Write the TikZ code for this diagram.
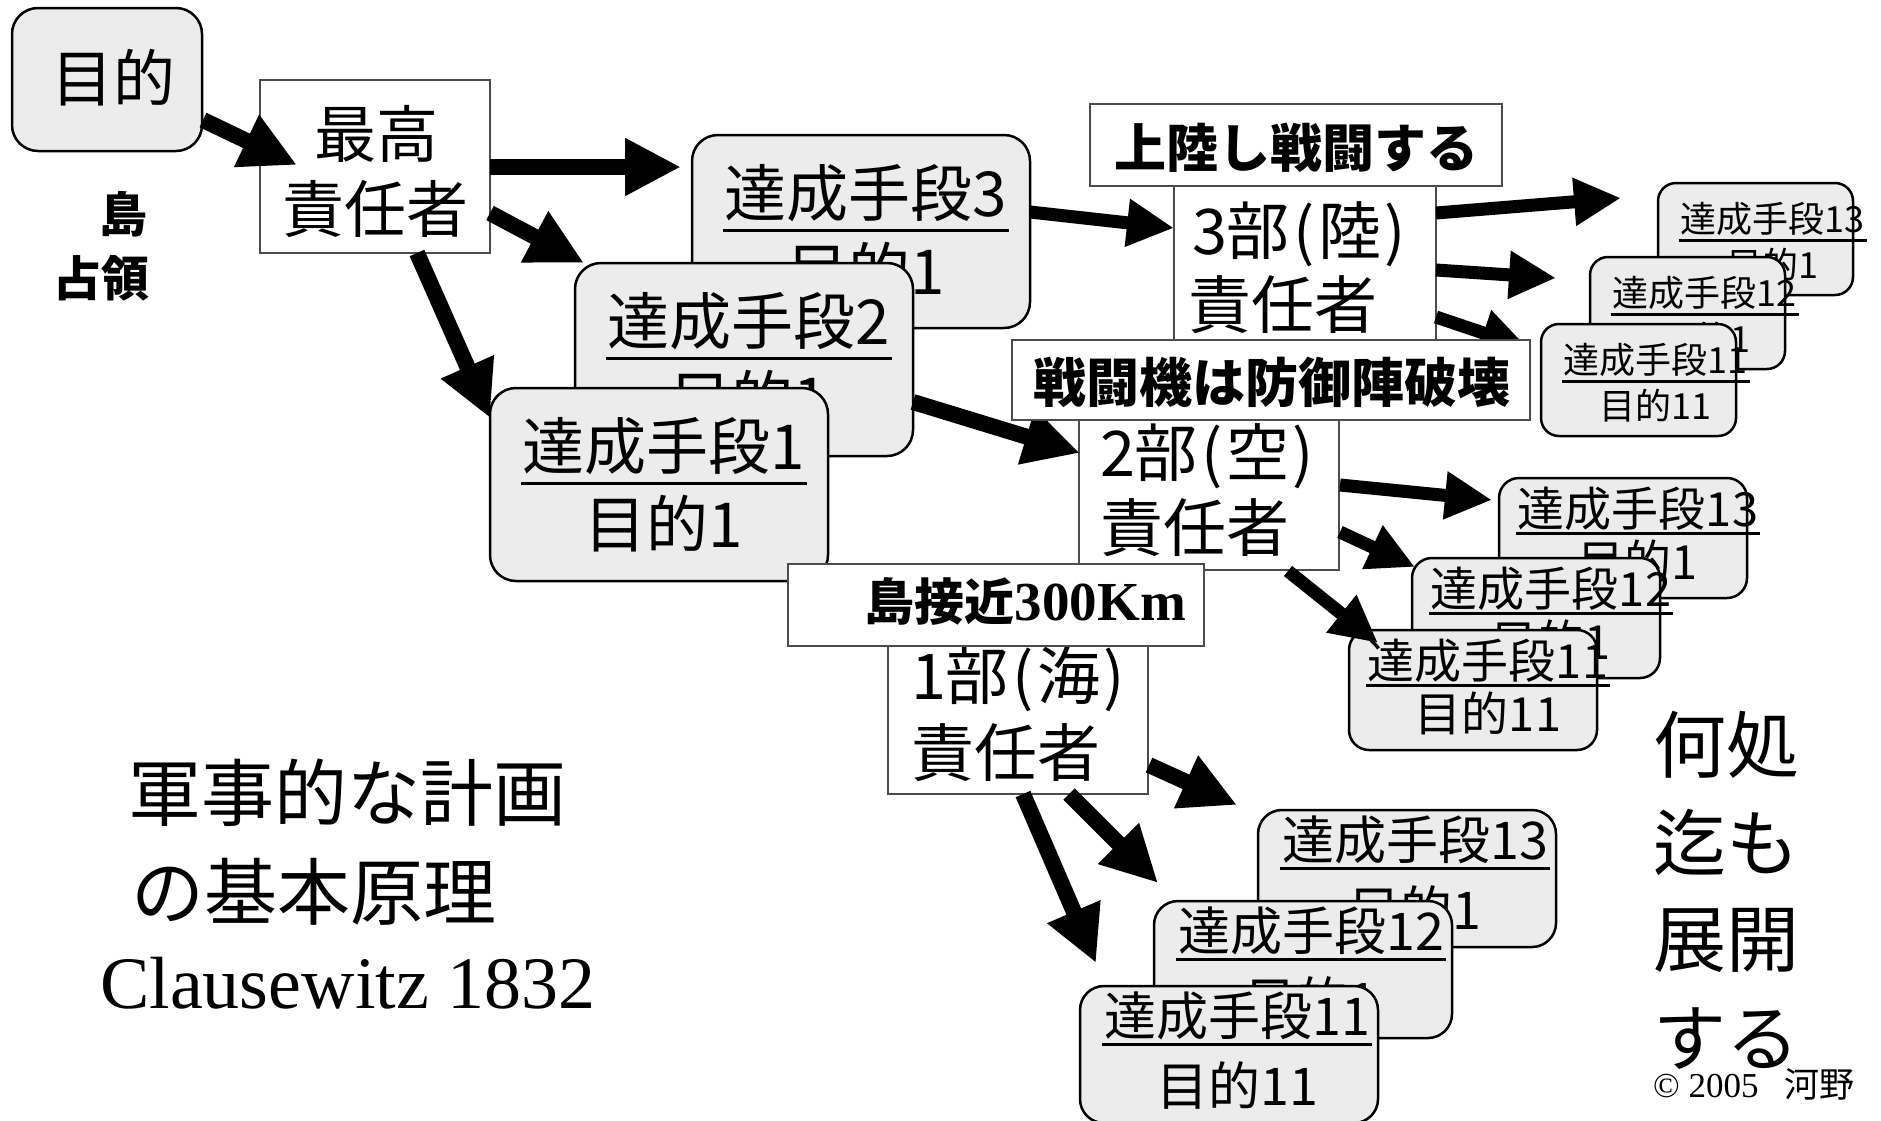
\documentclass[tikz,border=0pt]{standalone}
\usepackage{fontspec}
\setmainfont{Noto Sans CJK JP}
\newfontfamily\jpf{Noto Sans CJK JP}
\newfontfamily\serf{Liberation Serif}
\usetikzlibrary{arrows.meta,calc}
\pgfdeclarelayer{front}
\pgfsetlayers{main,front}
\definecolor{boxgray}{RGB}{236,236,236}
\newcommand{\fs}[1]{\fontsize{#1pt}{#1pt}\selectfont}
\tikzset{
 rbox/.style={draw=black, line width=2.5pt, fill=boxgray, anchor=north west, inner sep=0pt, outer sep=0pt},
 wbox/.style={draw=black!70, line width=1.6pt, fill=white, anchor=north west, inner sep=0pt, outer sep=0pt},
 gtext/.style={inner sep=2pt, outer sep=0pt},
 uline/.style={line width=3pt},
 arrA/.style={line width=16pt, -{Triangle[length=56pt,width=54pt]}},
 arrB/.style={line width=13pt, -{Triangle[length=47pt,width=45pt]}},
}
\newcommand{\setgroup}[8]{\def\gw{#1}\def\gh{#2}\def\gr{#3}\def\gfs{#4}\def\gya{#5}\def\gyu{#6}\def\gyb{#7}\def\gdx{#8}}
\newcommand{\gbox}[5]{%
 \node[rbox, minimum width=\gw pt, minimum height=\gh pt, rounded corners=\gr pt] (#1) at (#2,#3) {};
 \node[gtext, font=\fs{\gfs}] (#1a) at ($(#1.north)+(\gdx,\gya)$) {#4};
 \draw[uline] ($(#1a.west)+(0,\gyu-\gya)$) -- ($(#1a.east)+(0,\gyu-\gya)$);
 \node[gtext, font=\fs{\gfs}] (#1b) at ($(#1.north)+(\gdx,\gyb)$) {#5};
}
\newcommand{\bu}[2]{#1\kern4pt(\kern3pt#2\kern3pt)}
\begin{document}
\begin{tikzpicture}[x=1pt,y=-1pt]
\useasboundingbox (0,0) rectangle (1881,1120);
\fill[white] (0,0) rectangle (1881,1120);

% goal box
\node[rbox, minimum width=190pt, minimum height=143pt, rounded corners=26pt] (mok) at (12,8) {};
\node[gtext, font=\fs{62}] (mokt) at (113,78) {目的};
\node[gtext, anchor=east, font=\fs{48}\bfseries] (shima) at (149,214) {島};
\node[gtext, anchor=east, font=\fs{48}\bfseries] (senryo) at (151,278) {占領};

% top commander
\node[wbox, minimum width=230pt, minimum height=173pt] (saiko) at (260,80) {};
\node[gtext, font=\fs{62}] (saikoa) at (376,134) {最高};
\node[gtext, font=\fs{62}] (saikob) at (375,209) {責任者};

% main means boxes
\setgroup{338}{193}{26}{62}{58}{95}{136}{5}
\gbox{s3}{692}{135}{達成手段3}{目的1}
\gbox{s2}{575}{263}{達成手段2}{目的1}
\gbox{s1}{490}{388}{達成手段1}{目的1}

% unit boxes
\node[wbox, minimum width=262pt, minimum height=165pt] (bu3) at (1174,186) {};
\node[gtext, anchor=west, font=\fs{63}] (bu3a) at (1190,234) {\bu{3部}{陸}};
\node[gtext, anchor=west, font=\fs{63}] (bu3b) at (1186,305) {責任者};
\node[wbox, minimum width=260pt, minimum height=175pt] (bu2) at (1079,395) {};
\node[gtext, anchor=west, font=\fs{63}] (bu2a) at (1098,456) {\bu{2部}{空}};
\node[gtext, anchor=west, font=\fs{63}] (bu2b) at (1098,528) {責任者};
\node[wbox, minimum width=260pt, minimum height=174pt] (bu1) at (888,620) {};
\node[gtext, anchor=west, font=\fs{63}] (bu1a) at (909,679) {\bu{1部}{海}};
\node[gtext, anchor=west, font=\fs{63}] (bu1b) at (909,753) {責任者};

% top right group
\setgroup{195}{112}{18}{36}{36}{57}{82}{17}
\gbox{t13}{1658}{183}{達成手段13}{目的1}
\gbox{t12}{1590}{257}{達成手段12}{目的1}
\gbox{t11}{1541}{324}{達成手段11}{目的11}

% middle right group
\setgroup{248}{120}{20}{47}{31}{55}{83}{15}
\gbox{m13}{1499}{478}{達成手段13}{目的1}
\gbox{m12}{1412}{558}{達成手段12}{目的1}
\gbox{m11}{1349}{630}{達成手段11}{目的11}

% bottom group
\setgroup{298}{137}{24}{52}{30}{58}{99}{8}
\gbox{b13}{1258}{810}{達成手段13}{目的1}
\gbox{b12}{1154}{901}{達成手段12}{目的1}
\gbox{b11}{1080}{986}{達成手段11}{目的11}

% arrows
\draw[arrA] ($(mok.north east)+(1,112)$) -- ($(saiko.north west)+(37,85)$);
\draw[arrA] ($(saiko.north east)+(0,87)$) -- ($(s3.north west)+(-11,32)$);
\draw[arrA] ($(saiko.north east)+(0,133)$) -- ($(s2.north west)+(9,0)$);
\draw[arrA] ($(saiko.south west)+(157,0)$) -- ($(s1.north west)+(0,30)$);
\draw[arrB] ($(s3.north east)+(0,77)$) -- ($(bu3.north west)+(0,42)$);
\draw[arrA] ($(s2.north east)+(0,139)$) -- ($(bu2.north west)+(1,58)$);
\draw[arrB] ($(bu3.north east)+(0,27)$) -- ($(t13.north west)+(-37,15)$);
\draw[arrB] ($(bu3.north east)+(0,84)$) -- ($(t12.north west)+(-34,21)$);
\draw[arrB] ($(bu3.north east)+(0,131)$) -- ($(t11.north west)+(-13,24)$);
\draw[arrB] ($(bu2.north east)+(1,90)$) -- ($(m13.north west)+(-7,22)$);
\draw[arrB] ($(bu2.north east)+(1,137)$) -- ($(m12.north west)+(3,9)$);
\draw[arrB] ($(bu2.south west)+(209,1)$) -- ($(m11.north west)+(29,13)$);
\draw[arrA] ($(bu1.north east)+(1,145)$) -- ($(b13.north west)+(-21,-5)$);
\draw[arrA] ($(bu1.south west)+(181,0)$) -- ($(b12.north west)+(4,-18)$);
\draw[arrA] ($(bu1.south west)+(135,0)$) -- ($(b11.north west)+(16,-23)$);

% labels in front
\begin{pgfonlayer}{front}
\node[wbox, minimum width=412pt, minimum height=82pt] (lab3) at (1090,104) {};
\node[gtext, font=\fs{52}\bfseries] (lab3t) at (1296,148) {上陸し戦闘する};
\node[wbox, minimum width=518pt, minimum height=80pt] (lab2) at (1012,340) {};
\node[gtext, font=\fs{53}\bfseries] (lab2t) at (1272,382) {戦闘機は防御陣破壊};
\node[wbox, minimum width=416pt, minimum height=82pt] (lab1) at (788,564) {};
\node[gtext, anchor=east] (lab1t) at (1188,602) {{\fs{50}\bfseries 島接近}{\serf\fs{55}\bfseries 300Km}};
\end{pgfonlayer}

% free texts
\node[anchor=west, inner sep=0pt, font=\fs{73}] (ttl1) at (128,793) {軍事的な計画};
\node[anchor=west, inner sep=0pt, font=\fs{73}] (ttl2) at (131,892) {の基本原理};
\node[anchor=base west, inner sep=0pt, font=\serf\fs{74}] (ttl3) at (100,1008) {Clausewitz 1832};

\node[anchor=west, inner sep=0pt, font=\fs{73}] (r1) at (1653,745) {何処};
\node[anchor=west, inner sep=0pt, font=\fs{73}] (r2) at (1653,842) {迄も};
\node[anchor=west, inner sep=0pt, font=\fs{73}] (r3) at (1653,940) {展開};
\node[anchor=west, inner sep=0pt, font=\fs{73}] (r4) at (1653,1039) {する};
\node[anchor=base west, inner sep=0pt] (cp) at (1653,1097) {{\serf\fs{35}© 2005}\hspace{26pt}{\jpf\fs{35}河野}};
\end{tikzpicture}
\end{document}
